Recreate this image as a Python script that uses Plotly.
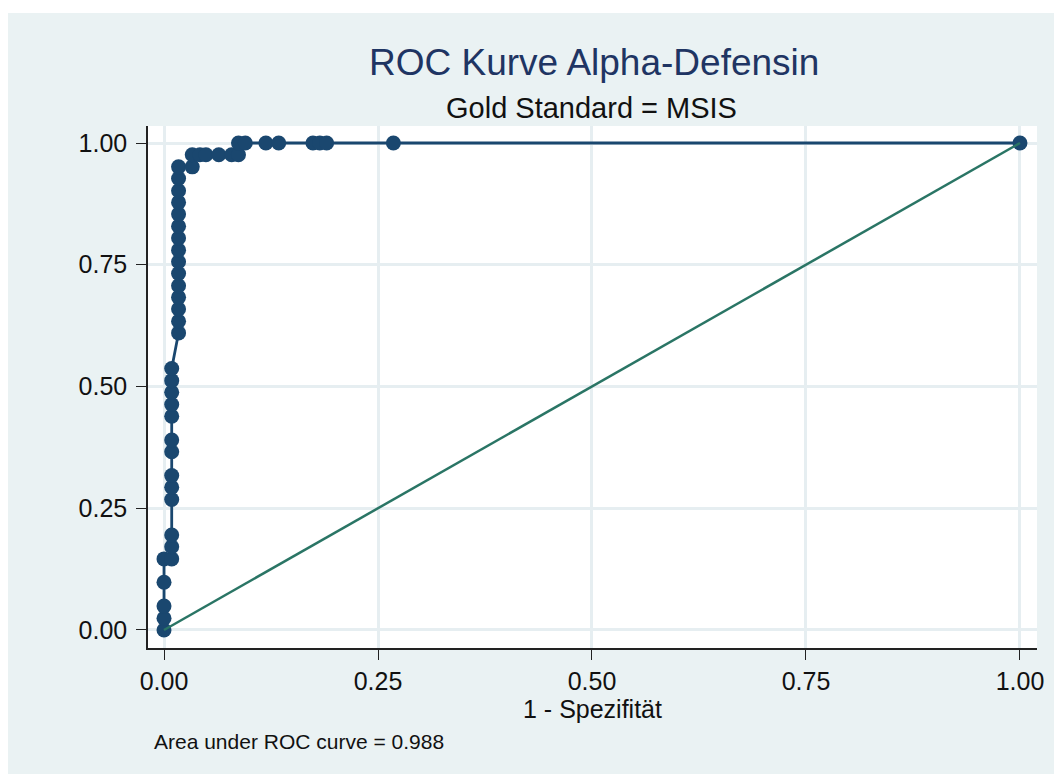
import plotly.graph_objects as go

# ROC curve points (1 - specificity, sensitivity)
fpr = [0.000, 0.000, 0.000, 0.000, 0.000,
       0.009, 0.009, 0.009, 0.009, 0.009, 0.009, 0.009, 0.009, 0.009, 0.009, 0.009, 0.009, 0.009,
       0.017, 0.017, 0.017, 0.017, 0.017, 0.017, 0.017, 0.017, 0.017, 0.017, 0.017, 0.017, 0.017, 0.017, 0.017,
       0.033,
       0.033, 0.042, 0.049, 0.064, 0.079, 0.087,
       0.087, 0.095, 0.119, 0.134, 0.174, 0.182, 0.190, 0.268, 1.000]
tpr = [0.000, 0.024, 0.049, 0.098, 0.146,
       0.146, 0.171, 0.195, 0.268, 0.293, 0.317, 0.366, 0.390, 0.439, 0.463, 0.488, 0.512, 0.537,
       0.610, 0.634, 0.659, 0.683, 0.707, 0.732, 0.756, 0.780, 0.805, 0.829, 0.854, 0.878, 0.902, 0.927, 0.951,
       0.951,
       0.976, 0.976, 0.976, 0.976, 0.976, 0.976,
       1.000, 1.000, 1.000, 1.000, 1.000, 1.000, 1.000, 1.000, 1.000]

ref_x = [0.0, 1.0]
ref_y = [0.0, 1.0]

tick_vals = [0, 0.25, 0.5, 0.75, 1.0]
tick_text = ["0.00", "0.25", "0.50", "0.75", "1.00"]

title_text = "ROC Kurve Alpha-Defensin"
subtitle_text = "Gold Standard = MSIS"
xaxis_title = "1 - Spezifität"
note_text = "Area under ROC curve = 0.988"

NAVY = "#1a476f"
TEAL = "#2a7565"
BG = "#eaf2f3"
GRID = "#e6eef1"
FONT = "Liberation Sans, Arial, Helvetica, sans-serif"

fig = go.Figure()
fig.add_trace(go.Scatter(
    x=fpr, y=tpr, mode="lines+markers",
    line=dict(color=NAVY, width=2.8),
    marker=dict(color=NAVY, size=15, symbol="circle"),
    showlegend=False, hoverinfo="x+y"))
fig.add_trace(go.Scatter(
    x=ref_x, y=ref_y, mode="lines",
    line=dict(color=TEAL, width=2.5),
    showlegend=False, hoverinfo="skip"))

W, H = 1054, 774
L, R, T, B = 148, 17, 126, 126
pw, ph = W - L - R, H - T - B

def px_to_paper_x(px):
    return (px - L) / pw

def px_to_paper_y(py):
    return (H - B - py) / ph

axis_common = dict(
    showline=True, linecolor="#222222", linewidth=1.5, mirror=False,
    ticks="outside", ticklen=10, tickwidth=1.3, tickcolor="#222222",
    showgrid=True, gridcolor=GRID, gridwidth=2.5,
    zeroline=False,
    tickvals=tick_vals, ticktext=tick_text,
    tickfont=dict(family=FONT, size=25, color="#111111"),
)

fig.update_layout(
    width=W, height=H,
    margin=dict(l=L, r=R, t=T, b=B, autoexpand=False),
    paper_bgcolor=BG, plot_bgcolor="white",
    font=dict(family=FONT, color="#111111"),
    xaxis=dict(range=[-0.0187, 1.0199], automargin=False,
               title=dict(text=xaxis_title, font=dict(family=FONT, size=25, color="#111111"), standoff=2),
               **axis_common),
    yaxis=dict(range=[-0.037, 1.0349], automargin=False, ticklabelstandoff=4, **axis_common),
    shapes=[
        dict(type="rect", xref="paper", yref="paper",
             x0=px_to_paper_x(-5), x1=px_to_paper_x(W + 5),
             y0=px_to_paper_y(13), y1=px_to_paper_y(-5),
             fillcolor="white", line=dict(width=0), layer="above"),
        dict(type="rect", xref="paper", yref="paper",
             x0=px_to_paper_x(-5), x1=px_to_paper_x(8),
             y0=px_to_paper_y(H + 5), y1=px_to_paper_y(-5),
             fillcolor="white", line=dict(width=0), layer="above"),
    ],
    annotations=[
        dict(text=title_text, xref="paper", yref="paper", x=px_to_paper_x(594), y=px_to_paper_y(62),
             xanchor="center", yanchor="middle", showarrow=False,
             font=dict(family=FONT, size=37, color="#1f3563")),
        dict(text=subtitle_text, xref="paper", yref="paper", x=px_to_paper_x(591), y=px_to_paper_y(108),
             xanchor="center", yanchor="middle", showarrow=False,
             font=dict(family=FONT, size=29, color="#111111")),
        dict(text=note_text, xref="paper", yref="paper", x=px_to_paper_x(152), y=px_to_paper_y(741),
             xanchor="left", yanchor="middle", showarrow=False,
             font=dict(family=FONT, size=21, color="#111111")),
    ],
)

fig.write_html("out.html")
